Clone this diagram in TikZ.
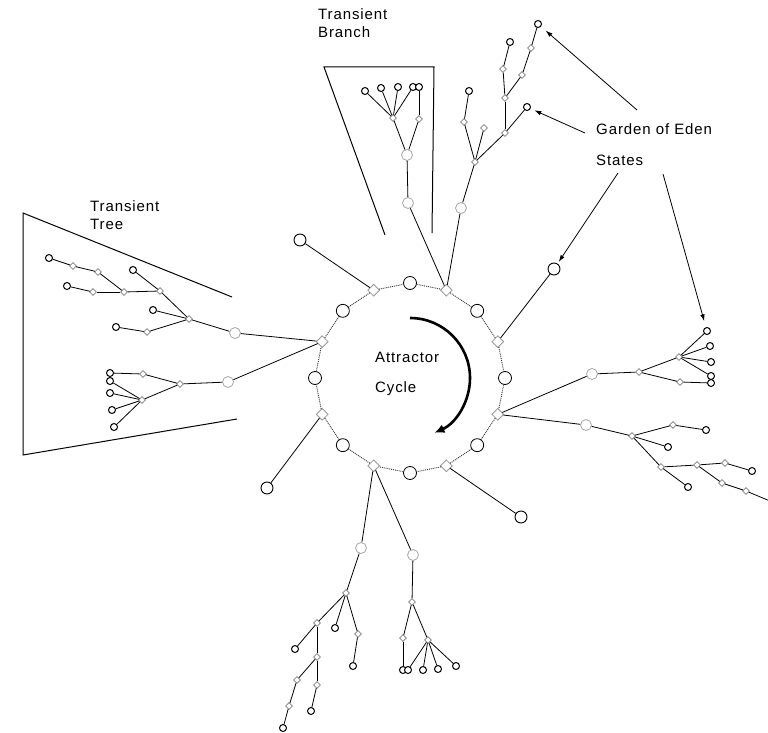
\documentclass[tikz,border=0pt]{standalone}
\usepackage{fontspec}
\newfontfamily\lblfont[LetterSpace=6]{Liberation Sans}
\usetikzlibrary{shapes.geometric,arrows.meta,calc}

\begin{document}
\begin{tikzpicture}[x=1pt,y=-1pt]

    \tikzset{
      cyc/.style={draw, circle, inner sep=0pt, minimum size=13pt, line width=0.8pt, fill=white},
      cdia/.style={draw=black!40, diamond, inner sep=0pt, minimum size=12pt, line width=0.8pt, fill=white},
      leaf/.style={draw, circle, inner sep=0pt, minimum size=7pt, line width=1pt, fill=white},
      mid/.style={draw=black!50, diamond, inner sep=0pt, minimum size=7pt, line width=0.7pt, fill=white},
      midc/.style={draw=black!35, circle, inner sep=0pt, minimum size=11pt, line width=0.8pt, fill=white},
      tip/.style={draw, circle, inner sep=0pt, minimum size=12pt, line width=0.9pt, fill=white},
      edge/.style={line width=0.8pt},
      ring/.style={line width=0.9pt, black!85, densely dotted},
      box/.style={line width=1pt},
      gearrow/.style={line width=0.8pt, -{Latex[length=7pt,width=4.5pt]}},
      lbl/.style={font=\lblfont\fontsize{15}{18}\selectfont, inner sep=0pt, anchor=base west},
    }
    \useasboundingbox (0,0) rectangle (768,733);

    % attractor cycle
    \coordinate (ctr) at (410,378);
    \foreach \k in {0,...,15}{
      \ifodd\k
        \node[cdia] (c\k) at ($(ctr)+({-90+22.5*\k}:95)$) {};
      \else
        \node[cyc] (c\k) at ($(ctr)+({-90+22.5*\k}:95)$) {};
      \fi
    }
    \foreach \k [evaluate=\k as \n using {int(mod(\k+1,16))}] in {0,...,15}
      \draw[ring] (c\k) -- (c\n);
    \draw[line width=2.6pt, -{Latex[length=10pt,width=9pt]}] ($(ctr)+(-90:60)$) arc[start angle=-90, end angle=66, radius=60];

    % single states off the cycle
    \foreach \n/\x/\y in {e1/300/240, e2/521/517, e3/267/488, g1/554/269}
      \node[tip] (\n) at (\x,\y) {};

    % faint inner states
    \foreach \n/\x/\y in {l1/235/333, m1/228/382, b1/408/203, b2/407/155, u1/461/208,
                         r1/592/374, s1/586/425, d1/361/548, f1/413/555}
      \node[midc] (\n) at (\x,\y) {};
    \foreach \n/\x/\y in {l2/189/319, l3/160/291, l5/124/292, l6/93/292, l8/98/272, l9/73/266, l12/147/332,
                         m2/180/384, m3/143/374, m5/142/400,
                         b3/393/118, b4/419/119,
                         u2/475/162, u3/464/122, u5/484/128, u6/505/133, u8/505/98, u9/503/69, u11/522/75, u12/531/48,
                         r2/639/372, r3/679/357, r8/680/382,
                         s2/632/436, s3/673/425, s6/661/467, s8/697/465, s9/725/463, s11/722/483, s12/746/491,
                         d2/346/593, d4/358/634, d6/317/623, d8/317/657, d9/317/685, d11/297/680, d12/289/706,
                         f2/412/602, f3/403/638, f5/428/640}
      \node[mid] (\n) at (\x,\y) {};

    % garden of eden states
    \foreach \n/\x/\y in {l4/133/270, l7/67/286, l10/49/258, l11/153/310, l13/116/327,
                         m4/110/373, m6/110/381, m7/110/393, m8/112/410, m9/114/427,
                         b5/365/91, b6/381/88, b7/398/87, b8/413/87, b9/419/87,
                         u4/469/91, u7/527/107, u10/510/42, u13/538/24,
                         r4/707/331, r5/710/346, r6/711/362, r7/711/376, r9/711/383,
                         s4/706/430, s5/668/447, s7/688/487, s10/752/471,
                         d3/335/628, d5/353/666, d7/295/649, d10/311/711, d13/283/728,
                         f4/403/670, f6/408/670, f7/423/670, f8/438/669, f9/456/666}
      \node[leaf] (\n) at (\x,\y) {};
    \coordinate (s13) at (770,501);

    \foreach \a/\b in {c15/e1, c3/g1, c7/e2, c11/e3,
                       c13/l1, l1/l2, l2/l3, l3/l4, l3/l5, l5/l6, l6/l7, l5/l8, l8/l9, l9/l10, l2/l11, l2/l12, l12/l13,
                       c13/m1, m1/m2, m2/m3, m3/m4, m2/m5, m5/m6, m5/m7, m5/m8, m5/m9,
                       c1/b1, b1/b2, b2/b3, b2/b4, b3/b5, b3/b6, b3/b7, b3/b8, b4/b9,
                       c1/u1, u1/u2, u2/u3, u3/u4, u2/u5, u2/u6, u6/u7, u6/u8, u8/u9, u9/u10, u8/u11, u11/u12, u12/u13,
                       c5/r1, r1/r2, r2/r3, r3/r4, r3/r5, r3/r6, r3/r7, r2/r8, r8/r9,
                       c5/s1, s1/s2, s2/s3, s3/s4, s2/s5, s2/s6, s6/s7, s6/s8, s8/s9, s9/s10, s8/s11, s11/s12, s12/s13,
                       c9/d1, d1/d2, d2/d3, d2/d4, d4/d5, d2/d6, d6/d7, d6/d8, d8/d9, d9/d10, d8/d11, d11/d12, d12/d13,
                       c9/f1, f1/f2, f2/f3, f3/f4, f2/f5, f5/f6, f5/f7, f5/f8, f5/f9}
      \draw[edge] (\a) -- (\b);

    % brackets
    \draw[box] (232,297) -- (23,213) -- (23,455) -- (237,419);
    \draw[box] (385,235) -- (324,67) -- (434,67) -- (432,233);

    % labels
    \node[lbl] (tt1) at (90,211) {Transient};
    \node[lbl] (tt2) at (90,229) {Tree};
    \node[lbl] (tb1) at (318,20) {Transient};
    \node[lbl] (tb2) at (318,38) {Branch};
    \node[lbl] (ac1) at (375,362) {Attractor};
    \node[lbl] (ac2) at (375,392) {Cycle};
    \node[lbl] (ge1) at (596,135) {Garden of Eden};
    \node[lbl] (ge2) at (596,165) {States};

    \coordinate (gt1) at (637,110);
    \coordinate (gt2) at (585,133);
    \coordinate (gt3) at (618,173);
    \coordinate (gt4) at (663,174);
    \draw[gearrow, shorten >=6pt] (gt1) -- (u13);
    \draw[gearrow, shorten >=4pt] (gt2) -- (u7);
    \draw[gearrow, shorten >=2pt] (gt3) -- (g1);
    \draw[gearrow, shorten >=6pt] (gt4) -- (r4);

\end{tikzpicture}
\end{document}
